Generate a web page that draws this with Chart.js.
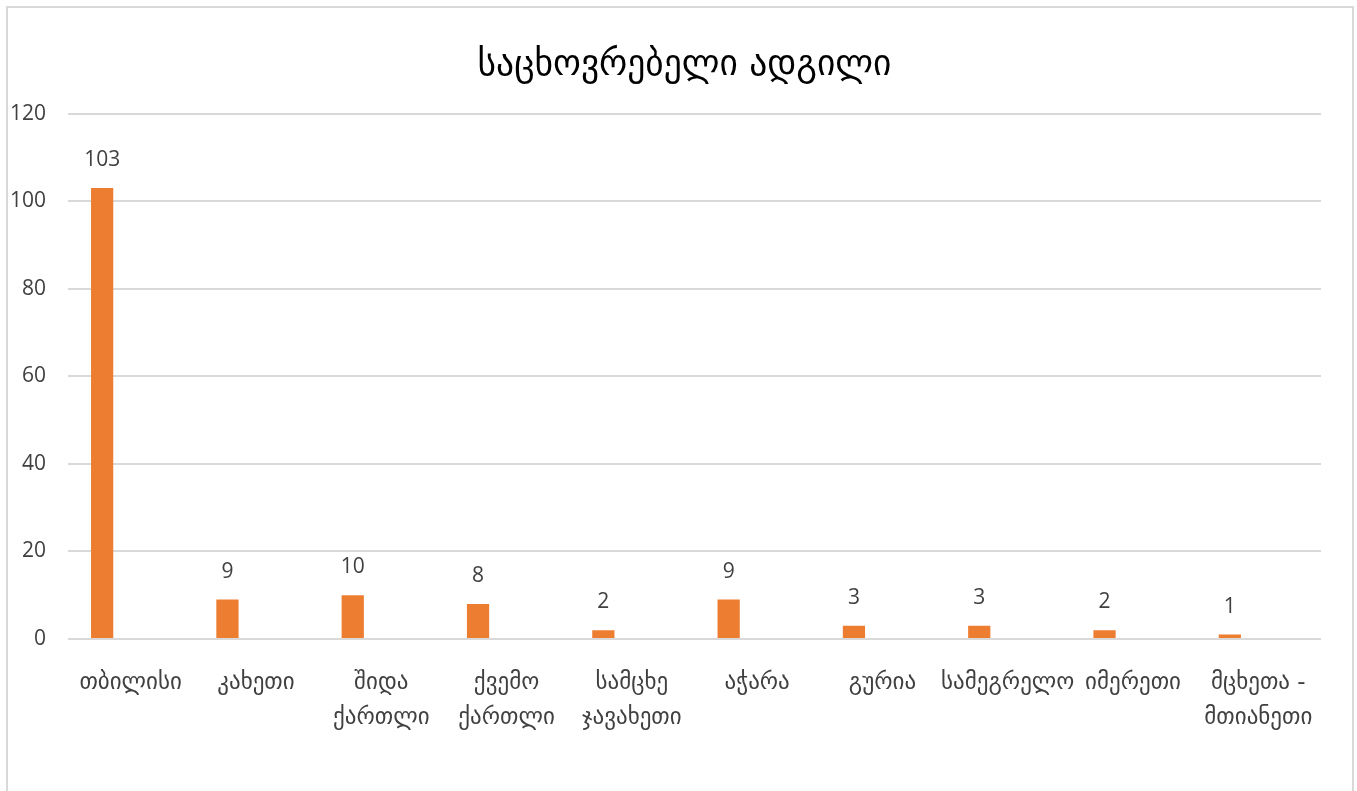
<!DOCTYPE html>
<html>
<head>
<meta charset="utf-8">
<script src="https://cdn.jsdelivr.net/npm/chart.js@4/dist/chart.umd.min.js"></script>
<style>
  html, body { margin: 0; padding: 0; background: #fff; overflow: hidden; }
  #wrap { position: relative; width: 1357px; height: 791px; }
  #frame {
    position: absolute; left: 6px; top: 6px; width: 1348px; height: 800px;
    border: 2px solid #d9d9d9; box-sizing: border-box;
  }
  canvas { position: absolute; left: 0; top: 0; }
</style>
</head>
<body>
<div id="wrap">
  <div id="frame"></div>
  <canvas id="chart" width="1357" height="791"></canvas>
</div>
<script>
const chartTitle = 'საცხოვრებელი ადგილი';

// რეგიონები (ორხაზიანი წარწერები მასივებად)
const regions = [
  'თბილისი',
  'კახეთი',
  ['შიდა', 'ქართლი'],
  ['ქვემო', 'ქართლი'],
  ['სამცხე', 'ჯავახეთი'],
  'აჭარა',
  'გურია',
  'სამეგრელო',
  'იმერეთი',
  ['მცხეთა -', 'მთიანეთი']
];

const counts = [103, 9, 10, 8, 2, 9, 3, 3, 2, 1];

const yTicks = [0, 20, 40, 60, 80, 100, 120];

const numFont = '"Open Sans", sans-serif';
const geoFont = '"DejaVu Sans", sans-serif';

// ზედა ციფრები ბარებზე
const valueLabels = {
  id: 'valueLabels',
  afterDatasetsDraw(chart) {
    const ctx = chart.ctx;
    const meta = chart.getDatasetMeta(0);
    ctx.save();
    ctx.font = '21px ' + numFont;
    ctx.fillStyle = '#404040';
    ctx.textAlign = 'center';
    ctx.textBaseline = 'middle';
    meta.data.forEach((bar, i) => {
      ctx.fillText(String(counts[i]), bar.x, bar.y - 28);
    });
    ctx.restore();
  }
};

// სათაური ოდნავ მარჯვნივ, როგორც ორიგინალში
const shiftTitle = {
  id: 'shiftTitle',
  afterLayout(chart) {
    const t = chart.titleBlock;
    if (t) { t.left += 24; t.right += 24; }
  }
};

new Chart(document.getElementById('chart'), {
  type: 'bar',
  data: {
    labels: regions,
    datasets: [
      {
        data: counts,
        backgroundColor: '#ED7D31',
        borderWidth: 0,
        barPercentage: 0.39,
        categoryPercentage: 0.91
      },
      {
        // ცარიელი მეორე სერია (Excel-ის განლაგებისთვის)
        data: counts.map(() => null),
        backgroundColor: 'rgba(0,0,0,0)',
        barPercentage: 0.39,
        categoryPercentage: 0.91
      }
    ]
  },
  options: {
    responsive: false,
    animation: false,
    layout: { padding: { left: 0, right: 36, top: 0, bottom: 0 } },
    plugins: {
      legend: { display: false },
      tooltip: { enabled: false },
      title: {
        display: true,
        text: chartTitle,
        color: '#000',
        font: { family: geoFont, size: 35.5, weight: 'normal', lineHeight: 1.2 },
        padding: { top: 44, bottom: 27 }
      }
    },
    scales: {
      x: {
        grid: { display: false, drawTicks: false },
        border: { display: false },
        ticks: {
          color: '#404040',
          font: { family: geoFont, size: 23, lineHeight: 1.52 },
          padding: 27,
          maxRotation: 0,
          autoSkip: false
        },
        afterFit(scale) { scale.height = 152; }
      },
      y: {
        min: 0,
        max: 120,
        afterBuildTicks(scale) { scale.ticks = yTicks.map(v => ({ value: v })); },
        grid: { color: '#d9d9d9', lineWidth: 2, drawTicks: false },
        border: { display: false },
        ticks: {
          color: '#404040',
          font: { family: numFont, size: 21 },
          padding: 22
        },
        afterFit(scale) { scale.width = 68; }
      }
    }
  },
  plugins: [valueLabels, shiftTitle]
});
</script>
</body>
</html>
